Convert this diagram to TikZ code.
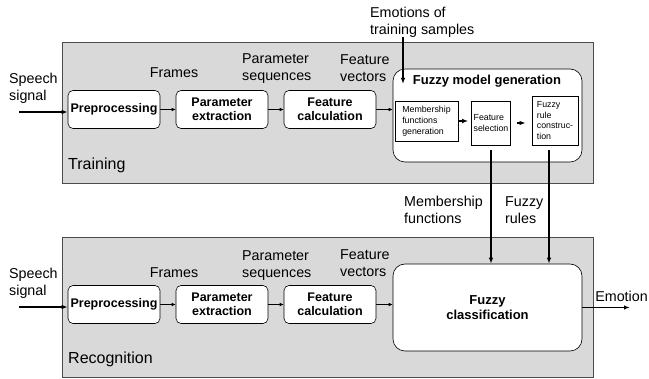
\documentclass[tikz,border=0pt]{standalone}
\usepackage{fontspec}
\setmainfont{Liberation Sans}
\usetikzlibrary{arrows.meta}

\begin{document}
\begin{tikzpicture}[x=1pt, y=-1pt,
    panel/.style={draw=black!70, fill=black!15, line width=0.8pt},
    blk/.style={draw, rounded corners=5pt, fill=white, line width=0.6pt, align=center,
      font=\bfseries\fontsize{12.5}{14}\selectfont, minimum width=92pt, minimum height=38pt, inner sep=1pt},
    big/.style={draw, rounded corners=12pt, fill=white, line width=0.6pt, minimum width=189pt},
    sub/.style={draw, fill=white, line width=0.6pt, align=left, inner sep=1.5pt,
      font=\fontsize{8.8}{10.8}\selectfont},
    lbl/.style={font=\fontsize{14.3}{17}\selectfont, align=left, inner sep=0pt},
    thin arr/.style={-{Latex[length=4pt,width=3.5pt]}, line width=0.6pt},
    thick arr/.style={-{Latex[length=6pt,width=4.5pt]}, line width=1.6pt}]
    \useasboundingbox (0,0) rectangle (649,379);

    % training panel
    \draw[panel] (62,42) rectangle (593,183);
    \node[lbl, anchor=west, font=\fontsize{16}{18}\selectfont] (trn) at (68,165) {Training};

    \node[blk] (pre1) at (114,109.5) {Preprocessing};
    \node[blk] (par1) at (222,109.5) {Parameter\\extraction};
    \node[blk] (feat1) at (330,109.5) {Feature\\calculation};
    \node[big, minimum height=93pt] (fmg) at (487.5,115.5) {};
    \node[font=\bfseries\fontsize{13}{15}\selectfont] (fmgt) at (487,81) {Fuzzy model generation};
    \node[sub, minimum width=63pt, minimum height=40pt] (mfg) at (426.5,121) {Membership\\functions\\generation};
    \node[sub, minimum width=39pt, minimum height=44pt] (fsel) at (491,123) {Feature\\selection};
    \node[sub, minimum width=44pt, minimum height=49pt, inner xsep=5pt] (frc) at (555,120.5) {Fuzzy\\rule\\construc-\\tion};

    \node[lbl, anchor=west] (sp1) at (9,88.5) {Speech\\signal};
    \node[lbl] (frm1) at (174,73) {Frames};
    \node[lbl, anchor=west] (ps1) at (242,68.5) {Parameter\\sequences};
    \node[lbl, anchor=west] (fv1) at (340,68.5) {Feature\\vectors};
    \node[lbl, anchor=west] (emo) at (370,22) {Emotions of\\training samples};

    \coordinate (in1) at (19,112);
    \coordinate (emoTop) at (403,37);
    \coordinate (emoTip) at (403,84);
    \draw[thick arr] (in1) -- (in1 -| pre1.west);
    \draw[thin arr] (pre1.east) -- (par1.west);
    \draw[thin arr] (par1.east) -- (feat1.west);
    \draw[thin arr] (feat1.east) -- (feat1.east -| fmg.west);
    \draw[thick arr] (emoTop) -- (emoTip);
    \draw[thick arr, shorten >=3pt] (mfg.east) -- (mfg.east -| fsel.west);
    \draw[thick arr, shorten <=6pt, shorten >=6pt] (fsel.east) -- (fsel.east -| frc.west);

    % recognition panel
    \draw[panel] (62,237) rectangle (593,377);
    \node[lbl, anchor=west, font=\fontsize{16}{18}\selectfont] (rec) at (68,359) {Recognition};

    \node[blk] (pre2) at (114,304.5) {Preprocessing};
    \node[blk] (par2) at (222,304.5) {Parameter\\extraction};
    \node[blk] (feat2) at (330,304.5) {Feature\\calculation};
    \node[big, minimum height=87pt, align=center, font=\bfseries\fontsize{13}{15}\selectfont] (fcl) at (487.5,307.5) {Fuzzy\\classification};

    \node[lbl, anchor=west] (sp2) at (9,283.5) {Speech\\signal};
    \node[lbl] (frm2) at (174,273) {Frames};
    \node[lbl, anchor=west] (ps2) at (242,265.5) {Parameter\\sequences};
    \node[lbl, anchor=west] (fv2) at (340,263.5) {Feature\\vectors};
    \node[lbl, anchor=west] (mf) at (404,210) {Membership\\functions};
    \node[lbl, anchor=west] (fr) at (505,210) {Fuzzy\\rules};
    \node[lbl, anchor=east] (out) at (648,296) {Emotion};

    \coordinate (in2) at (19,307);
    \coordinate (rulesTop) at (549,150);
    \coordinate (outTip) at (630,307.5);
    \draw[thick arr] (in2) -- (in2 -| pre2.west);
    \draw[thin arr] (pre2.east) -- (par2.west);
    \draw[thin arr] (par2.east) -- (feat2.west);
    \draw[thin arr] (feat2.east) -- (feat2.east -| fcl.west);
    \draw[thick arr, shorten <=5pt] (fsel.south) -- (fsel.south |- fcl.north);
    \draw[thick arr] (rulesTop) -- (rulesTop |- fcl.north);
    \draw[thick arr] (fcl.east) -- (outTip);
\end{tikzpicture}
\end{document}
